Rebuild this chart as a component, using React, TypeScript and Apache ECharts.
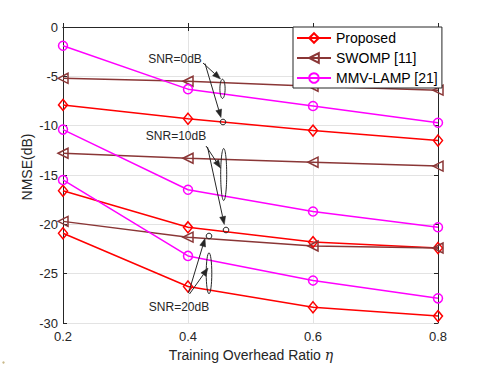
import React, { useEffect, useRef } from "react";
import * as echarts from "echarts";

const FONT = "'Liberation Sans', Arial, Helvetica, sans-serif";

// x: training overhead ratio
const xValues = [0.2, 0.4, 0.6, 0.8];
const xTicks = [0.2, 0.4, 0.6, 0.8];
const yTicks = [0, -5, -10, -15, -20, -25, -30];

// Proposed
const proposed0dB = [-7.9, -9.3, -10.5, -11.5];
const proposed10dB = [-16.6, -20.3, -21.8, -22.4];
const proposed20dB = [-20.9, -26.3, -28.4, -29.3];
// SWOMP [11]
const swomp0dB = [-5.2, -5.5, -6.0, -6.4];
const swomp10dB = [-12.8, -13.3, -13.7, -14.1];
const swomp20dB = [-19.7, -21.3, -22.2, -22.4];
// MMV-LAMP [21]
const mmv0dB = [-1.9, -6.3, -8.0, -9.7];
const mmv10dB = [-10.4, -16.5, -18.7, -20.3];
const mmv20dB = [-15.5, -23.2, -25.7, -27.5];

const legendNames = ["Proposed", "SWOMP [11]", "MMV-LAMP [21]"];
const RED = "#ff0000";
const BROWN = "#8a3636";
const MAGENTA = "#ff00ff";
const INK = "#262626";

function mk(name: string, vals: number[], color: string, symbol: string, size: any, rotate = 0) {
  return {
    type: "line",
    name,
    data: xValues.map((x, i) => [x, vals[i]]),
    symbol,
    symbolSize: size,
    symbolRotate: rotate,
    showSymbol: true,
    lineStyle: { color, width: 1.5 },
    itemStyle: { color: "rgba(255,255,255,0)", borderColor: color, borderWidth: 1.5 },
    emphasis: { disabled: true },
  };
}

function arrow(x1: number, y1: number, x2: number, y2: number) {
  const dx = x2 - x1;
  const dy = y2 - y1;
  const len = Math.sqrt(dx * dx + dy * dy);
  const ux = dx / len;
  const uy = dy / len;
  const hl = 8;
  const hw = 3;
  const bx = x2 - ux * hl;
  const by = y2 - uy * hl;
  return [
    { type: "line", z: 100, shape: { x1, y1, x2: bx, y2: by }, style: { stroke: INK, lineWidth: 1 } },
    {
      type: "polygon",
      z: 100,
      shape: { points: [[x2, y2], [bx - uy * hw, by + ux * hw], [bx + uy * hw, by - ux * hw]] },
      style: { fill: INK, stroke: INK, lineWidth: 0.5 },
    },
  ];
}

function label(text: string, x: number, y: number) {
  return {
    type: "text",
    z: 100,
    x,
    y,
    style: { text, fill: INK, font: `12px ${FONT}`, align: "center", verticalAlign: "middle" },
  };
}

function ell(cx: number, cy: number, rx: number, ry: number) {
  return { type: "ellipse", z: 100, shape: { cx, cy, rx, ry }, style: { fill: "none", stroke: INK, lineWidth: 1 } };
}

export default function App() {
  const ref = useRef<HTMLDivElement>(null);
  useEffect(() => {
    if (!ref.current) return;
    const chart = echarts.init(ref.current, undefined, { renderer: "svg" });
    const axisCommon = {
      type: "value",
      axisLine: { show: true, lineStyle: { color: INK, width: 1 } },
      axisTick: { show: true, inside: true, length: 4, lineStyle: { color: INK } },
    };
    const option: any = {
      animation: false,
      backgroundColor: "#fff",
      grid: { left: 63, right: 47, top: 27, bottom: 42 },
      xAxis: [
        {
          ...axisCommon,
          min: xTicks[0],
          max: xTicks[xTicks.length - 1],
          interval: 0.2,
          axisLabel: {
            color: INK,
            fontSize: 13,
            fontFamily: FONT,
            margin: 7,
            formatter: (v: number) => v.toFixed(1),
          },
          splitLine: { show: true, lineStyle: { color: "#e3e3e3", width: 1 } },
        },
        {
          ...axisCommon,
          position: "top",
          min: xTicks[0],
          max: xTicks[xTicks.length - 1],
          interval: 0.2,
          axisLabel: { show: false },
          splitLine: { show: false },
        },
      ],
      yAxis: [
        {
          ...axisCommon,
          min: yTicks[yTicks.length - 1],
          max: yTicks[0],
          interval: 5,
          axisLabel: { color: INK, fontSize: 13, fontFamily: FONT, margin: 5 },
          splitLine: { show: true, lineStyle: { color: "#e3e3e3", width: 1 } },
        },
        {
          ...axisCommon,
          position: "right",
          min: yTicks[yTicks.length - 1],
          max: yTicks[0],
          interval: 5,
          axisLabel: { show: false },
          splitLine: { show: false },
        },
      ],
      legend: {
        data: legendNames,
        orient: "vertical",
        left: 293,
        top: 27,
        itemWidth: 34,
        itemHeight: 12,
        itemGap: 4,
        padding: [3, 4, 2, 3],
        borderColor: INK,
        borderWidth: 1,
        borderRadius: 0,
        backgroundColor: "#fff",
        selectedMode: false,
        textStyle: { fontSize: 14, color: "#000", fontFamily: FONT, lineHeight: 16 },
      },
      series: [
        mk(legendNames[0], proposed0dB, RED, "diamond", [9, 11]),
        mk(legendNames[0], proposed10dB, RED, "diamond", [9, 11]),
        mk(legendNames[0], proposed20dB, RED, "diamond", [9, 11]),
        mk(legendNames[1], swomp0dB, BROWN, "triangle", [10, 10], 90),
        mk(legendNames[1], swomp10dB, BROWN, "triangle", [10, 10], 90),
        mk(legendNames[1], swomp20dB, BROWN, "triangle", [10, 10], 90),
        mk(legendNames[2], mmv0dB, MAGENTA, "circle", 9),
        mk(legendNames[2], mmv10dB, MAGENTA, "circle", 9),
        mk(legendNames[2], mmv20dB, MAGENTA, "circle", 9),
      ],
      graphic: [
        {
          type: "text",
          x: 27,
          y: 167,
          rotation: Math.PI / 2,
          style: { text: "NMSE(dB)", fill: INK, font: `14px ${FONT}`, align: "center", verticalAlign: "middle" },
        },
        {
          type: "text",
          x: 251,
          y: 355,
          style: {
            text: "Training Overhead Ratio {i|η}",
            fill: INK,
            font: `14px ${FONT}`,
            align: "center",
            verticalAlign: "middle",
            rich: { i: { fontFamily: "'DejaVu Serif', 'Liberation Serif', serif", fontStyle: "italic", fontSize: 14, fill: INK } },
          },
        },
        // SNR = 0 dB
        label("SNR=0dB", 175, 59),
        ...arrow(203, 63, 220.5, 79),
        ...arrow(205, 63.5, 221, 117.5),
        ell(222.5, 88.8, 2.6, 9.6),
        ell(223, 122, 2.8, 2.8),
        // SNR = 10 dB
        label("SNR=10dB", 176, 136),
        ...arrow(206, 146, 220.5, 168),
        ...arrow(207.5, 147, 224.3, 224.5),
        ell(223.7, 174.5, 3, 26),
        ell(226, 230, 2.8, 2.8),
        // SNR = 20 dB
        label("SNR=20dB", 179, 307),
        ...arrow(189.5, 294, 208, 268),
        ...arrow(188.5, 293, 205, 238.5),
        ell(209, 273.3, 2.8, 20.5),
        ell(209, 236, 2.8, 2.8),
        { type: "circle", shape: { cx: 3.5, cy: 362.5, r: 1.2 }, style: { fill: "#c9b98a" } },
      ],
    };
    chart.setOption(option);
    return () => chart.dispose();
  }, []);
  return (
    <div
      ref={ref}
      style={{ position: "absolute", left: 0, top: 0, width: 485, height: 365, background: "#fff" }}
    />
  );
}
